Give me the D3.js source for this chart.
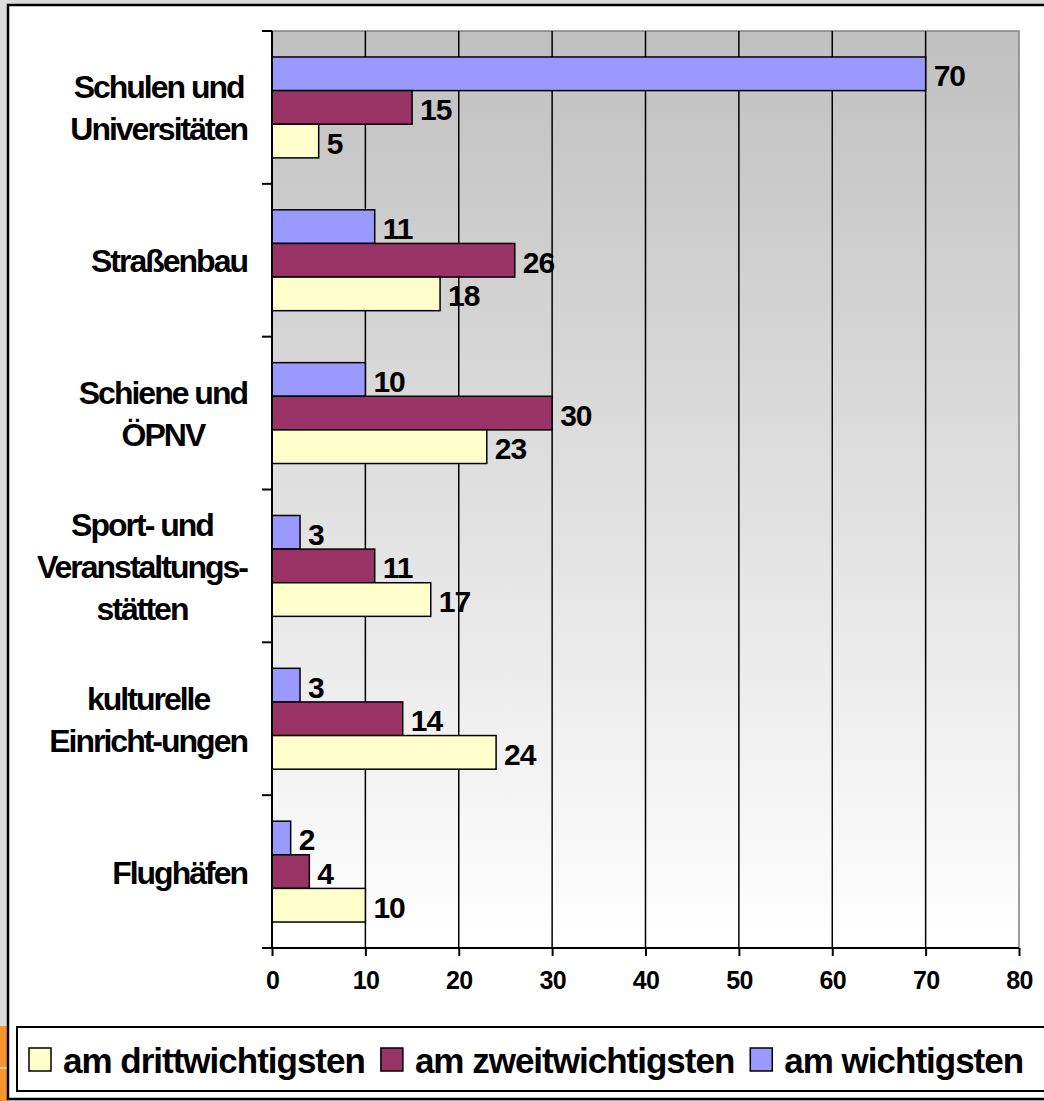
<!DOCTYPE html>
<html><head><meta charset="utf-8">
<script src="https://cdn.jsdelivr.net/npm/d3@7"></script>
<style>
html,body{margin:0;padding:0;background:#dcdcdc;}
svg{display:block;}
text{font-family:"Liberation Sans",Arial,sans-serif;font-weight:bold;fill:#000;}
</style></head>
<body>
<script>
// ---- data ----
const categories = ["Schulen und\nUniversitäten","Straßenbau","Schiene und\nÖPNV","Sport- und\nVeranstaltungs-\nstätten","kulturelle\nEinricht-ungen","Flughäfen"];
const seriesNames = ["am wichtigsten","am zweitwichtigsten","am drittwichtigsten"];
const wichtigsten = [70, 11, 10, 3, 3, 2];
const zweitwichtigsten = [15, 26, 30, 11, 14, 4];
const drittwichtigsten = [5, 18, 23, 17, 24, 10];
const xTicks = [0,10,20,30,40,50,60,70,80];
const legendOrder = ["am drittwichtigsten","am zweitwichtigsten","am wichtigsten"];
const colors = {"am wichtigsten":"#9999FF","am zweitwichtigsten":"#993366","am drittwichtigsten":"#FFFFCC"};
const seriesValues = {"am wichtigsten":wichtigsten,"am zweitwichtigsten":zweitwichtigsten,"am drittwichtigsten":drittwichtigsten};

const W = 1044, H = 1101;
const svg = d3.select("body").append("svg").attr("width",W).attr("height",H);

// background and frame
svg.append("rect").attr("x",0).attr("y",0).attr("width",W).attr("height",H).attr("fill","#dcdcdc");
svg.append("rect").attr("x",0).attr("y",1026).attr("width",8).attr("height",H-1026).attr("fill","#f7952c");
svg.append("line").attr("x1",0).attr("x2",8).attr("y1",1068).attr("y2",1068).attr("stroke","#fff").attr("stroke-width",1);
svg.append("rect").attr("x",8).attr("y",5).attr("width",W+20).attr("height",1094).attr("fill","#fff").attr("stroke","#000").attr("stroke-width",2.5);

const plot = {left:272, right:1019, top:31, bottom:948};

const defs = svg.append("defs");
const grad = defs.append("linearGradient").attr("id","bg").attr("x1",0).attr("y1",0).attr("x2",0).attr("y2",1);
grad.append("stop").attr("offset","0%").attr("stop-color","#c0c0c0");
grad.append("stop").attr("offset","100%").attr("stop-color","#ffffff");

const x = d3.scaleLinear().domain([0,80]).range([plot.left, plot.right]);
const y = d3.scaleBand().domain(categories).range([plot.top, plot.bottom]).padding(0);
const yInner = d3.scaleBand().domain(seriesNames).range([y.bandwidth()*0.17, y.bandwidth()*0.83]).padding(0);

// plot area
svg.append("rect").attr("x",plot.left).attr("y",plot.top).attr("width",plot.right-plot.left).attr("height",plot.bottom-plot.top)
  .attr("fill","url(#bg)").attr("stroke","#808080").attr("stroke-width",1.5);

// gridlines
svg.append("g").selectAll("line").data(xTicks.filter(d=>d>0 && d<80)).join("line")
  .attr("x1",d=>x(d)).attr("x2",d=>x(d)).attr("y1",plot.top).attr("y2",plot.bottom)
  .attr("stroke","#000").attr("stroke-width",1.5);

// bars
const groups = svg.append("g").selectAll("g").data(categories).join("g")
  .attr("transform",d=>`translate(0,${y(d)})`);
groups.each(function(cat, ci){
  const g = d3.select(this);
  seriesNames.forEach(s=>{
    const v = seriesValues[s][ci];
    g.append("rect").attr("x",x(0)).attr("y",yInner(s)).attr("width",x(v)-x(0)).attr("height",yInner.bandwidth())
      .attr("fill",colors[s]).attr("stroke","#000").attr("stroke-width",1.5);
    g.append("text").attr("x",x(v)+8).attr("y",yInner(s)+yInner.bandwidth()/2+2)
      .attr("dominant-baseline","central").attr("font-size",30).attr("letter-spacing",-1).text(v);
  });
});

// x axis
const xAxis = svg.append("g").attr("transform",`translate(0,${plot.bottom})`)
  .call(d3.axisBottom(x).tickValues(xTicks).tickSize(8).tickPadding(10).tickSizeOuter(0));
xAxis.select(".domain").attr("stroke","#000").attr("stroke-width",2).attr("d",`M${plot.left-10},0H${plot.right}`);
xAxis.selectAll(".tick line").attr("stroke","#000").attr("stroke-width",2);
xAxis.selectAll(".tick text").attr("font-size",25).attr("letter-spacing",-0.7)
  .attr("font-family","Liberation Sans, Arial, sans-serif").attr("font-weight","bold").attr("fill","#000").attr("dy","0.9em");

// y axis line + category ticks
svg.append("line").attr("x1",plot.left).attr("x2",plot.left).attr("y1",plot.top).attr("y2",plot.bottom).attr("stroke","#000").attr("stroke-width",2);
const bounds = categories.map(c=>y(c)).concat([plot.bottom]);
svg.append("g").selectAll("line").data(bounds).join("line")
  .attr("x1",plot.left-10).attr("x2",plot.left).attr("y1",d=>d).attr("y2",d=>d).attr("stroke","#000").attr("stroke-width",2);

// category labels
const lineH = 42, labelRight = 247;
categories.forEach(c=>{
  const lines = c.split("\n");
  const cy = y(c) + y.bandwidth()/2 + 1;
  const g = svg.append("g");
  const ts = lines.map((l,i)=> g.append("text").attr("font-size",32).attr("letter-spacing",-2)
     .attr("dominant-baseline","central").attr("text-anchor","middle")
     .attr("y", cy + (i-(lines.length-1)/2)*lineH).text(l));
  const widths = ts.map(t=>t.node().getComputedTextLength());
  const bw = d3.max(widths);
  ts.forEach(t=>t.attr("x", labelRight - bw/2));
});

// legend
svg.append("rect").attr("x",17).attr("y",1027).attr("width",W+20).attr("height",64).attr("fill","#fff").attr("stroke","#000").attr("stroke-width",2);
let lx = 29;
legendOrder.forEach(s=>{
  svg.append("rect").attr("x",lx).attr("y",1048).attr("width",22).attr("height",23).attr("fill",colors[s]).attr("stroke","#000").attr("stroke-width",1.5);
  const t = svg.append("text").attr("x",lx+34).attr("y",1060).attr("dominant-baseline","central")
    .attr("font-size",35).attr("letter-spacing",-1).text(s);
  lx = lx + 34 + t.node().getComputedTextLength() + 16;
});
</script>
</body></html>
